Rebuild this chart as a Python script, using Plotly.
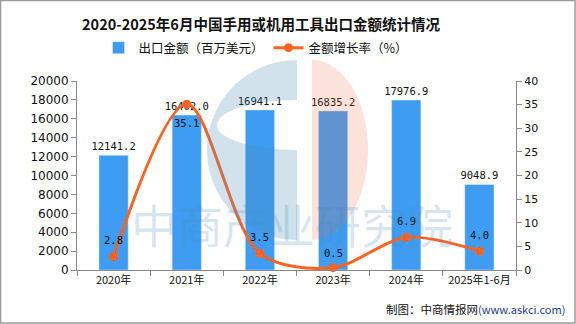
import numpy as np
import plotly.graph_objects as go

categories = ["2020年", "2021年", "2022年", "2023年", "2024年", "2025年1-6月"]
export_value = [12141.2, 16402.0, 16941.1, 16835.2, 17976.9, 9048.9]
growth_rate = [2.8, 35.1, 3.5, 0.5, 6.9, 4.0]
growth_label_shift = [17, -19, 16, 15, 16, 16]

W, H = 576, 324
L, R, T, B = 77, 516, 81, 270


def px(x):
    return (x - L) / (R - L)


def py(y):
    return (B - y) / (B - T)


fig = go.Figure()
fig.add_trace(go.Bar(
    x=categories, y=export_value, name="出口金额（百万美元）",
    marker_color="#3E9DF2", width=0.4,
    text=[f"{v:.1f}" for v in export_value], textposition="outside",
    constraintext="none",
    textfont=dict(family="DejaVu Sans Mono", size=10.5, color="#111"),
    cliponaxis=False,
))
fig.add_trace(go.Scatter(
    x=categories, y=growth_rate, name="金额增长率（%）", yaxis="y2",
    mode="lines+markers", line=dict(color="#FF6322", width=3, shape="spline", smoothing=0.9),
    marker=dict(size=9, color="#FF6322"),
    cliponaxis=False,
))
for c, v, s in zip(categories, growth_rate, growth_label_shift):
    fig.add_annotation(x=c, y=v, xref="x", yref="y2", text=f"{v:.1f}", showarrow=False,
                       yshift=s, font=dict(family="DejaVu Sans Mono", size=10.5, color="#111"))

# watermark "C" logo (decoration)
t = np.linspace(-np.pi / 2, np.pi / 2, 60)
outer = [(297 - 90 * np.cos(a), 150 + 90 * np.sin(a)) for a in t[::-1]]
inner = [(297 - 80 * np.cos(a), 125 + 25 * np.sin(a)) for a in t]
pts = outer + [(297, 150)] + inner + [(297, 100), (297, 60)]
path = "M " + " L ".join(f"{px(x):.4f},{py(y):.4f}" for x, y in pts) + " Z"
salmon = [(312, 60)] + [(312 + 56 * np.cos(a), 150 + 90 * np.sin(a)) for a in t[::-1]] + [(312, 240)]
path2 = "M " + " L ".join(f"{px(x):.4f},{py(y):.4f}" for x, y in salmon) + " Z"
fig.add_shape(type="path", path=path, xref="paper", yref="paper",
              fillcolor="rgba(70,140,185,0.25)", line_width=0, layer="above")
fig.add_shape(type="path", path=path2, xref="paper", yref="paper",
              fillcolor="rgba(235,110,70,0.2)", line_width=0, layer="above")
# frame border
fig.add_shape(type="rect", xref="paper", yref="paper",
              x0=px(0.5), x1=px(W - 1), y0=py(H - 1), y1=py(0.5),
              line=dict(color="#9a9a9a", width=1.5), layer="below")

fig.add_annotation(text="中商产业研究院", xref="paper", yref="paper",
                   x=px(292), y=py(258), showarrow=False,
                   font=dict(family="Noto Sans CJK SC", size=46, color="rgba(70,140,185,0.22)"))
fig.add_annotation(text="制图：中商情报网<span style='color:#1f3c88;font-size:11px'>(www.askci.com)</span>",
                   xref="paper", yref="paper", x=px(567), y=py(309), xanchor="right", yanchor="middle",
                   showarrow=False, font=dict(family="Noto Sans CJK SC", size=11.5, color="#111"))

fig.update_layout(
    width=W, height=H,
    margin=dict(l=L, r=W - R, t=T, b=H - B),
    paper_bgcolor="white", plot_bgcolor="white",
    title=dict(text="<b>2020-2025年6月中国手用或机用工具出口金额统计情况</b>",
               x=261 / W, xanchor="center", y=1 - 25 / H, yanchor="middle",
               font=dict(family="Noto Sans CJK SC", size=14.5, color="#111")),
    legend=dict(orientation="h", x=px(256), xanchor="center", y=py(48), yanchor="middle",
                font=dict(family="Noto Sans CJK SC", size=12.5, color="#111"),
                itemwidth=30, tracegroupgap=0, bgcolor="rgba(0,0,0,0)"),
    showlegend=True,
    bargap=0.6,
    xaxis=dict(showline=True, linecolor="#888", ticks="outside", tickson="boundaries",
               ticklen=5, tickcolor="#888", showgrid=False,
               tickfont=dict(family="Noto Sans CJK SC", size=11, color="#111")),
    yaxis=dict(range=[0, 20000], dtick=2000, tickformat="d", showline=True, linecolor="#888",
               ticks="outside", ticklen=5, tickcolor="#888", showgrid=False, zeroline=False,
               tickfont=dict(family="DejaVu Sans", size=12, color="#111")),
    yaxis2=dict(range=[0, 40], dtick=5, overlaying="y", side="right", showline=True,
                linecolor="#888", ticks="outside", ticklen=5, tickcolor="#888",
                showgrid=False, zeroline=False,
                tickfont=dict(family="DejaVu Sans", size=11, color="#111")),
)

fig.write_html("out.html")
